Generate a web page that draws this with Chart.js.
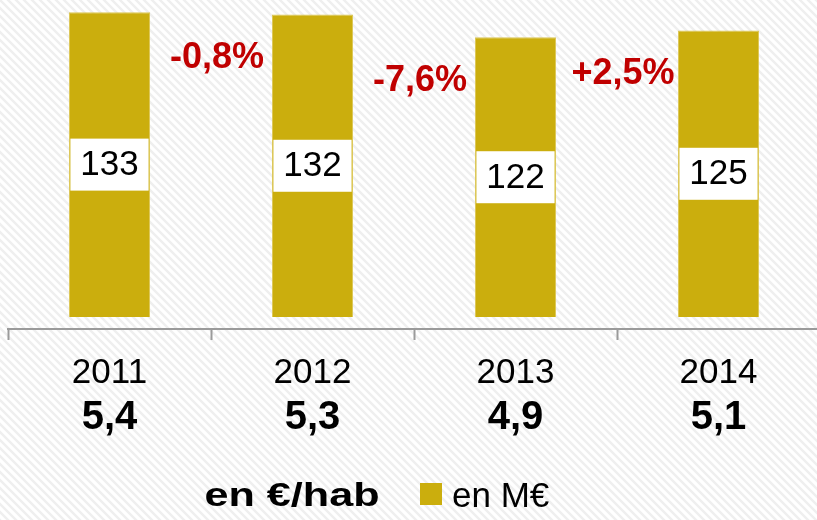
<!DOCTYPE html>
<html>
<head>
<meta charset="utf-8">
<script src="https://cdn.jsdelivr.net/npm/chart.js"></script>
<style>
  html, body { margin: 0; padding: 0; background: #fff; overflow: hidden; }
</style>
</head>
<body>
<canvas id="chart" width="820" height="520"></canvas>
<script>
const years = ['2011', '2012', '2013', '2014'];
const millions = [133, 132, 122, 125];
const perHab = ['5,4', '5,3', '4,9', '5,1'];
const changes = ['-0,8%', '-7,6%', '+2,5%'];
const seriesLabel = 'en M€';
const unitLabel = 'en €/hab';

const FONT = "'Liberation Sans', Arial, sans-serif";
const GOLD = '#cbae0d';
const RED = '#c00000';

// faint diagonal hatching behind everything
function hatch(ctx) {
  const s = 8;
  const c = document.createElement('canvas');
  c.width = s; c.height = s;
  const p = c.getContext('2d');
  p.fillStyle = '#fff';
  p.fillRect(0, 0, s, s);
  p.strokeStyle = '#efefef';
  p.lineWidth = 2.5;
  p.beginPath();
  for (let k = -1; k <= 1; k++) {
    p.moveTo(-2, k * s - 2);
    p.lineTo(s + 2, k * s + s + 2);
  }
  p.stroke();
  return ctx.createPattern(c, 'repeat');
}

const decor = {
  id: 'decor',
  beforeDraw(chart) {
    const ctx = chart.ctx;
    ctx.save();
    ctx.fillStyle = hatch(ctx);
    ctx.fillRect(0, 0, chart.width, chart.height);
    ctx.restore();
  },
  afterDatasetsDraw(chart) {
    const ctx = chart.ctx;
    const bars = chart.getDatasetMeta(0).data;
    const xs = chart.scales.x;
    ctx.save();
    ctx.textAlign = 'center';
    ctx.textBaseline = 'middle';

    // white value boxes in the middle of each bar
    bars.forEach((b, i) => {
      const mid = (b.y + b.base) / 2;
      const w = b.width - 3;
      ctx.fillStyle = '#fff';
      ctx.fillRect(b.x - w / 2, mid - 26, w, 52);
      ctx.fillStyle = '#000';
      ctx.font = '35px ' + FONT;
      ctx.fillText(String(millions[i]), b.x, mid + 1);
    });

    // change between years
    ctx.fillStyle = RED;
    ctx.font = 'bold 36px ' + FONT;
    changes.forEach((t, i) => {
      const x = (bars[i].x + bars[i + 1].x) / 2 + 6;
      ctx.fillText(t, x, bars[i + 1].y + 44);
    });

    // per inhabitant values under the years
    ctx.fillStyle = '#000';
    ctx.font = 'bold 40px ' + FONT;
    bars.forEach((b, i) => {
      ctx.fillText(perHab[i], b.x, xs.top + 89);
    });

    // legend line
    const ly = xs.top + 168;
    ctx.save();
    ctx.translate(292, ly);
    ctx.scale(1.27, 1);
    ctx.font = 'bold 34px ' + FONT;
    ctx.fillText(unitLabel, 0, 0);
    ctx.restore();
    ctx.fillStyle = GOLD;
    ctx.fillRect(420, ly - 14, 22, 22);
    ctx.fillStyle = '#000';
    ctx.textAlign = 'left';
    ctx.font = '35px ' + FONT;
    ctx.fillText(seriesLabel, 452, ly);
    ctx.restore();
  }
};

new Chart(document.getElementById('chart'), {
  type: 'bar',
  data: {
    labels: years,
    datasets: [{
      label: seriesLabel,
      data: millions,
      backgroundColor: GOLD,
      borderColor: '#dcc653',
      borderWidth: 1,
      categoryPercentage: 1,
      barPercentage: 0.4
    }]
  },
  options: {
    responsive: false,
    animation: false,
    layout: { padding: { left: 8, right: 0, top: 0, bottom: 114 } },
    plugins: {
      legend: { display: false },
      tooltip: { enabled: false }
    },
    scales: {
      y: { display: false, min: -5.2, max: 138.3 },
      x: {
        grid: {
          offset: true,
          drawOnChartArea: false,
          drawTicks: true,
          tickLength: 11,
          tickWidth: 2,
          tickColor: '#9a9a9a'
        },
        border: { display: true, color: '#9a9a9a', width: 2 },
        ticks: {
          padding: 12,
          color: '#000',
          font: { family: FONT, size: 35 }
        }
      }
    }
  },
  plugins: [decor]
});
</script>
</body>
</html>
